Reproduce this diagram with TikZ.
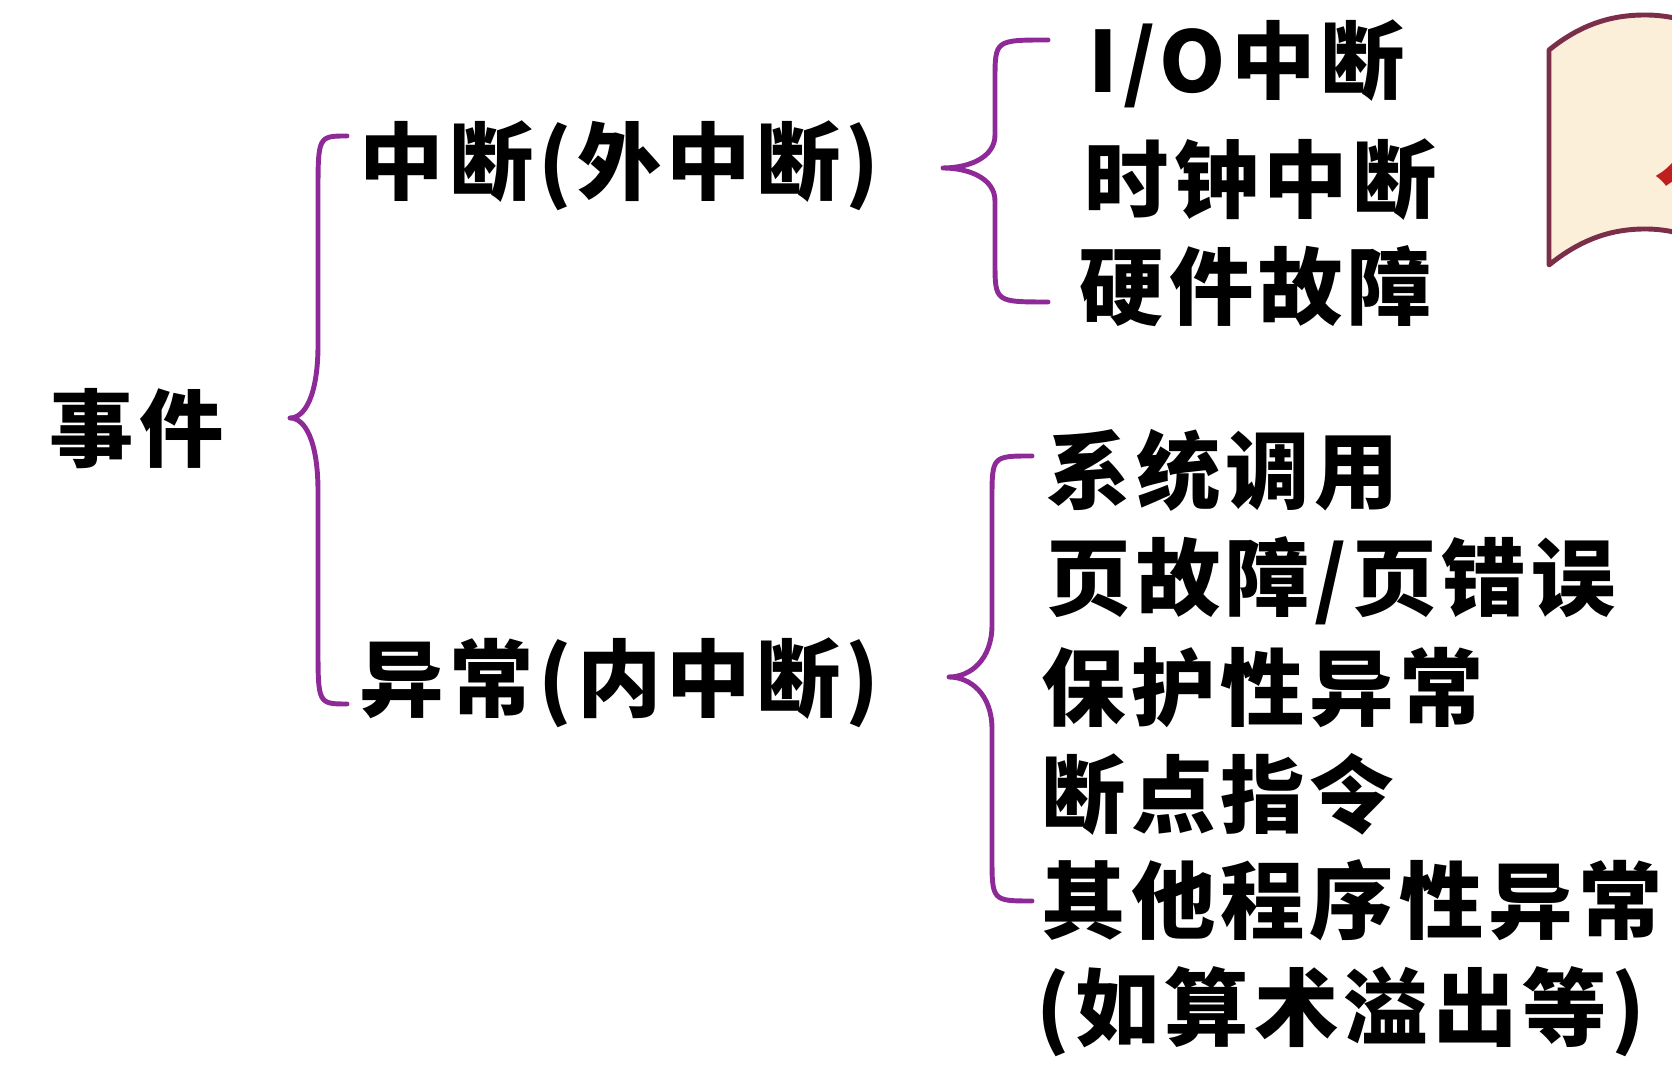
\documentclass[tikz,border=0pt]{standalone}
\usepackage{fontspec}
\setmainfont{Noto Sans CJK SC}[LetterSpace=6]
\usepackage{tikz}
\usetikzlibrary{positioning}
\definecolor{brace}{HTML}{8E2A97}
\definecolor{scrollline}{HTML}{7B2E4A}
\definecolor{scrollfill}{HTML}{FBEFDA}
\definecolor{mark}{HTML}{BE1E1E}

\begin{document}
\begin{tikzpicture}[x=0.1mm, y=-0.1mm,
  every node/.style={inner sep=0pt, font=\fontsize{24pt}{28pt}\selectfont\bfseries, text height=20pt, text depth=4pt},
  item/.style={anchor=west},
  br/.style={draw=brace, line width=1.4pt, line cap=round, line join=round}]
\useasboundingbox (0,0) rectangle (1672,1074);
\clip (0,0) rectangle (1672,1074);
% scroll at the top right, cut by the border
\draw[draw=scrollline, fill=scrollfill, line width=1.4pt, line join=round] (1549,50) .. controls (1580,25) and (1610,15) .. (1645,15) .. controls (1690,15) and (1720,35) .. (1760,55) -- (1760,270) .. controls (1720,250) and (1690,229) .. (1645,229) .. controls (1610,229) and (1580,240) .. (1549,265) -- cycle;
\node[item, text=mark] (tag) at (1654,150) {人};
% tree
\node[item] (event) at (49,432) {事件};
\node[item] (irq) at (359,165) {中断(外中断)};
\node[item] (exc) at (359,682) {异常(内中断)};
\node[item] (io) at (1088,64) {I/O中断};
\node[item] (clk) at (1084,183) {时钟中断};
\node[item] (hw) at (1079,290) {硬件故障};
\node[item] (sys) at (1046,474) {系统调用};
\node[below=1.07cm of sys.west, anchor=west] (page) {页故障/页错误};
\node[below=1.1cm of page.west, anchor=west, xshift=-0.5mm] (prot) {保护性异常};
\node[below=1.07cm of prot.west, anchor=west] (bp) {断点指令};
\node[below=1.06cm of bp.west, anchor=west] (other) {其他程序性异常};
\node[below=1.07cm of other.west, anchor=west, xshift=-0.5mm] (ovf) {(如算术溢出等)};
% braces
\draw[br] (347,136) .. controls (318,136) .. (318,195) -- (318,345) .. controls (318,395) and (305,418) .. (290,418) .. controls (305,418) and (318,441) .. (318,491) -- (318,645) .. controls (318,704) .. (347,704);
\draw[br] (1048,40) .. controls (995,40) .. (995,80) -- (995,135) .. controls (995,158) and (968,168) .. (943,168) .. controls (968,168) and (995,178) .. (995,201) -- (995,262) .. controls (995,302) .. (1048,302);
\draw[br] (1032,456) .. controls (992,456) .. (992,500) -- (992,625) .. controls (992,660) and (970,677) .. (949,677) .. controls (970,677) and (992,694) .. (992,729) -- (992,856) .. controls (992,901) .. (1032,901);
\end{tikzpicture}
\end{document}
